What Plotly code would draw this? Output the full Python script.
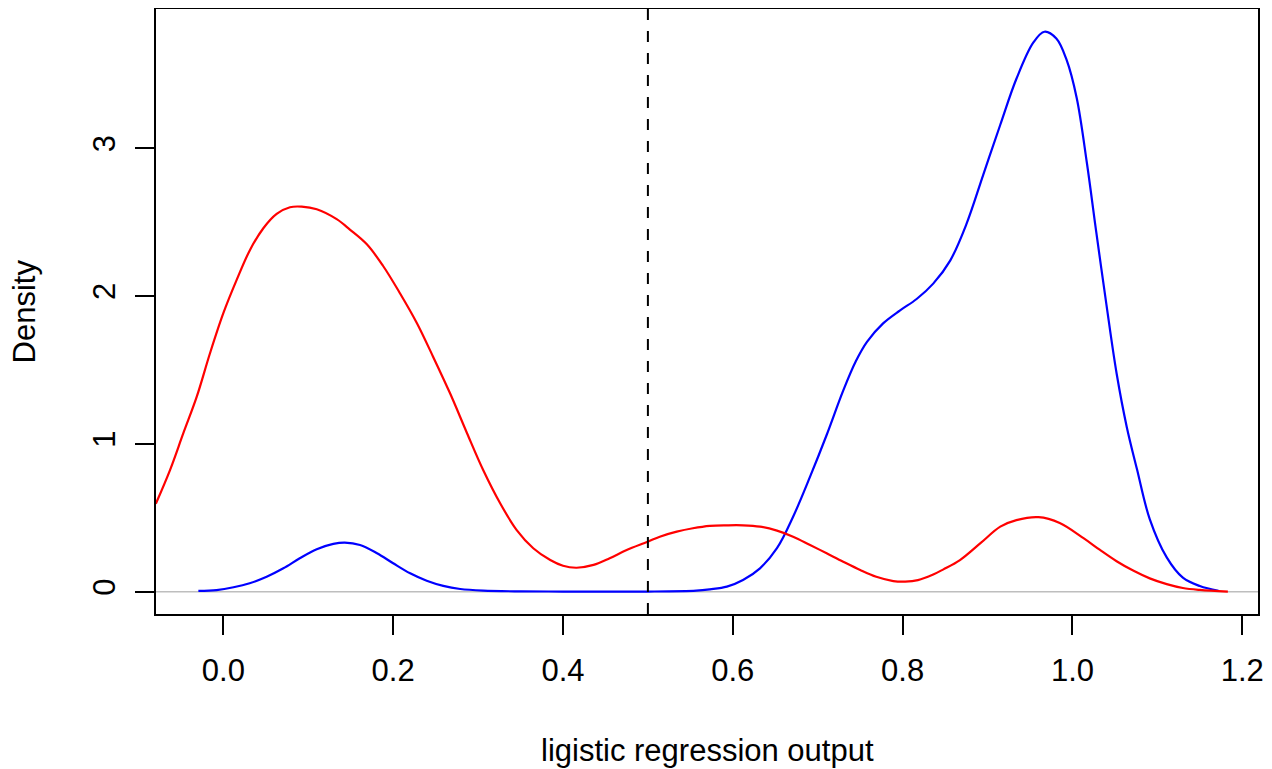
import plotly.graph_objects as go

# Density of logistic regression output, class shown in red
red_x = [-0.0795, -0.0628, -0.0471, -0.0313, -0.0157, 0.0, 0.0157, 0.0314, 0.0471, 0.0628,
         0.0785, 0.0923, 0.110, 0.1335, 0.149, 0.169, 0.188, 0.208, 0.228, 0.247,
         0.267, 0.287, 0.306, 0.326, 0.3455, 0.365, 0.385, 0.4, 0.416, 0.436,
         0.455, 0.475, 0.4998, 0.514, 0.534, 0.553, 0.573, 0.593, 0.612, 0.632,
         0.652, 0.671, 0.691, 0.7105, 0.730, 0.750, 0.769, 0.789, 0.803, 0.818,
         0.836, 0.848, 0.8675, 0.892, 0.915, 0.934, 0.960, 0.985, 1.013, 1.032,
         1.052, 1.072, 1.091, 1.111, 1.130, 1.150, 1.183]
red_y = [0.595, 0.823, 1.072, 1.319, 1.613, 1.884, 2.109, 2.312, 2.459, 2.556,
         2.601, 2.605, 2.587, 2.52, 2.45, 2.35, 2.205, 2.019, 1.816, 1.590,
         1.342, 1.072, 0.823, 0.598, 0.417, 0.294, 0.214, 0.175, 0.162, 0.181,
         0.226, 0.282, 0.338, 0.372, 0.406, 0.429, 0.445, 0.449, 0.449, 0.440,
         0.413, 0.372, 0.316, 0.260, 0.203, 0.147, 0.101, 0.072, 0.068, 0.078,
         0.116, 0.151, 0.214, 0.33, 0.440, 0.484, 0.504, 0.465, 0.362, 0.284,
         0.206, 0.141, 0.090, 0.051, 0.025, 0.012, 0.0]

# Density of logistic regression output, class shown in blue
blue_x = [-0.0294, -0.008, 0.012, 0.031, 0.051, 0.0707, 0.090, 0.110, 0.1295, 0.143,
          0.161, 0.181, 0.200, 0.220, 0.2395, 0.259, 0.279, 0.306, 0.35, 0.40,
          0.45, 0.50, 0.557, 0.573, 0.593, 0.612, 0.632, 0.652, 0.671, 0.691,
          0.7105, 0.730, 0.745, 0.758, 0.777, 0.797, 0.8165, 0.836, 0.856, 0.875, 0.895,
          0.915, 0.934, 0.954, 0.967, 0.981, 0.993, 1.005, 1.017, 1.028, 1.040,
          1.052, 1.064, 1.076, 1.091, 1.111, 1.130, 1.150, 1.172]
blue_y = [0.005, 0.011, 0.030, 0.057, 0.101, 0.158, 0.226, 0.287, 0.323, 0.332,
          0.316, 0.260, 0.192, 0.124, 0.074, 0.039, 0.018, 0.007, 0.002, 0.001,
          0.001, 0.001, 0.007, 0.016, 0.034, 0.079, 0.158, 0.294, 0.507, 0.778,
          1.060, 1.36, 1.56, 1.69, 1.815, 1.903, 1.980, 2.084, 2.240, 2.485, 2.822,
          3.159, 3.470, 3.716, 3.788, 3.742, 3.599, 3.340, 2.900, 2.434, 1.942,
          1.476, 1.113, 0.828, 0.491, 0.232, 0.095, 0.038, 0.005]

threshold = 0.5
x_ticks = [0.0, 0.2, 0.4, 0.6, 0.8, 1.0, 1.2]
x_tick_labels = ["0.0", "0.2", "0.4", "0.6", "0.8", "1.0", "1.2"]
y_ticks = [0, 1, 2, 3]
y_tick_labels = ["0", "1", "2", "3"]
x_title = "ligistic regression output"
y_title = "Density"

FONT = "Liberation Sans, Arial, Helvetica, sans-serif"
FS = 31

fig = go.Figure()
fig.add_trace(go.Scatter(x=blue_x, y=blue_y, mode="lines", line=dict(color="#0000FF", width=2.2),
                         line_shape="spline", showlegend=False, hoverinfo="skip"))
fig.add_trace(go.Scatter(x=red_x, y=red_y, mode="lines", line=dict(color="#FF0000", width=2.2),
                         line_shape="spline", showlegend=False, hoverinfo="skip"))

# zero line (gray) and threshold line (dashed)
fig.add_shape(type="line", xref="paper", yref="y", x0=0, x1=1, y0=0, y1=0,
              line=dict(color="#BEBEBE", width=1.5), layer="below")
fig.add_shape(type="line", xref="x", yref="paper", x0=threshold, x1=threshold, y0=0, y1=1,
              line=dict(color="black", width=2, dash="11px,11px"))

axis_common = dict(showgrid=False, zeroline=False, showline=True, mirror=True,
                   linecolor="black", linewidth=1.5, ticks="outside", ticklen=19,
                   tickwidth=1.5, tickcolor="black",
                   tickfont=dict(family=FONT, size=FS, color="black"))

fig.update_xaxes(range=[-0.0793, 1.2185], tickvals=x_ticks, ticktext=x_tick_labels,
                 ticklabelstandoff=9, **axis_common)
fig.update_yaxes(range=[-0.151, 3.942], tickvals=y_ticks, ticktext=y_tick_labels,
                 tickangle=-90, ticklabelstandoff=8, **axis_common)

fig.add_annotation(text=x_title, xref="paper", yref="paper", x=0.5, y=-0.2264,
                   xanchor="center", yanchor="middle", showarrow=False,
                   font=dict(family=FONT, size=FS, color="black"))
fig.add_annotation(text=y_title, xref="paper", yref="paper", x=-0.1189, y=0.5,
                   xanchor="center", yanchor="middle", showarrow=False, textangle=-90,
                   font=dict(family=FONT, size=FS, color="black"))

# page has an 8px body margin, so the figure is sized to fit the 1272x769 window
fig.update_layout(width=1264, height=761, margin=dict(l=148, r=14, t=1, b=155, autoexpand=False),
                  paper_bgcolor="white", plot_bgcolor="white")

fig.write_html("out.html")
